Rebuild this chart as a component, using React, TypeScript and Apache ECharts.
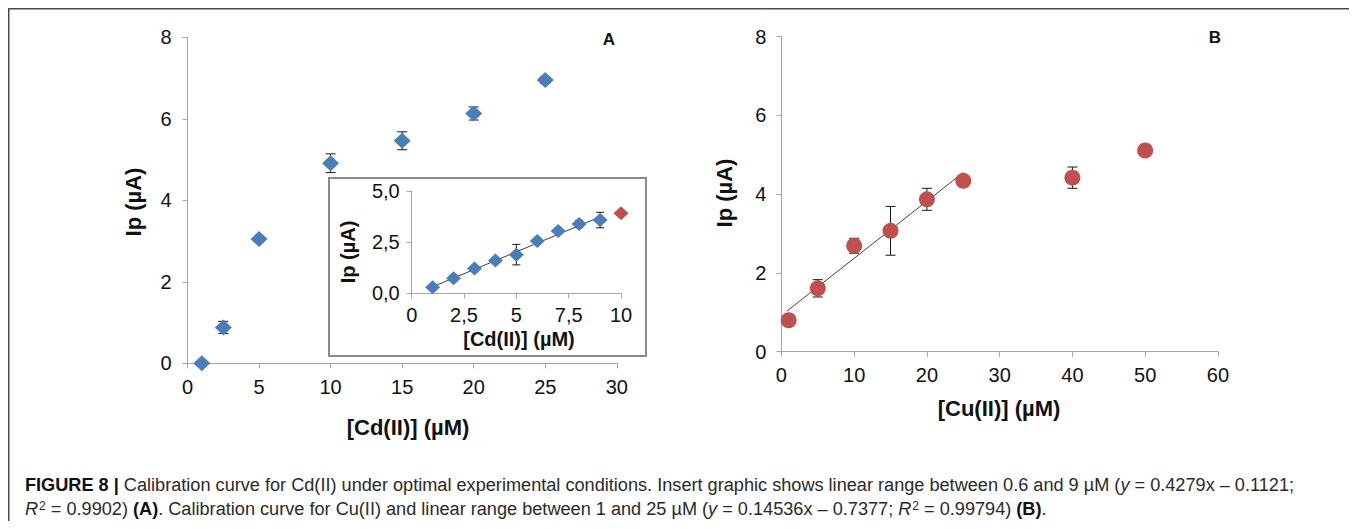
import React, { useEffect, useRef } from "react";
import * as echarts from "echarts";

// ---- Data ----
// Panel A (main): Cd(II)
const A_X = [1, 2.5, 5, 10, 15, 20, 25];
const A_Y = [0, 0.88, 3.05, 4.91, 5.46, 6.13, 6.95];
const A_ERR = [0, 0.15, 0.05, 0.23, 0.22, 0.16, 0.08];

// Panel A inset: linear range
const IN_X = [1, 2, 3, 4, 5, 6, 7, 8, 9];
const IN_Y = [0.29, 0.73, 1.21, 1.6, 1.89, 2.56, 3.05, 3.39, 3.58];
const IN_ERR = [0.05, 0.06, 0.08, 0.1, 0.5, 0.1, 0.1, 0.18, 0.38];
const IN_OUT_X = [10];
const IN_OUT_Y = [3.91];
const IN_TREND_X = [1, 9.15];
const IN_TREND_Y = [0.316, 3.8];

// Panel B: Cu(II)
const B_X = [1, 5, 10, 15, 20, 25, 40, 50];
const B_Y = [0.8, 1.61, 2.69, 3.07, 3.87, 4.34, 4.42, 5.11];
const B_ERR = [0, 0.22, 0.19, 0.62, 0.28, 0, 0.27, 0];
const B_TREND_X = [0.75, 25];
const B_TREND_Y = [1.03, 4.55];

const FONT = "Liberation Sans, Arial, sans-serif";
const BLUE = "#4a7ebb";
const RED = "#c0504d";
const AXIS = "#a6a6a6";

const zip = (xs: number[], ys: number[]) => xs.map((x, i) => [x, ys[i]]);
const zip3 = (xs: number[], ys: number[], es: number[]) => xs.map((x, i) => [x, ys[i], es[i]]);

function errRender(cap: number) {
  return (params: any, api: any) => {
    const x = api.value(0);
    const y = api.value(1);
    const e = api.value(2);
    if (!e) return { type: "group", children: [] };
    const t = api.coord([x, y + e]);
    const b = api.coord([x, y - e]);
    const st = { stroke: "#1a1a1a", lineWidth: 1 };
    return {
      type: "group",
      children: [
        { type: "line", shape: { x1: t[0], y1: t[1], x2: b[0], y2: b[1] }, style: st },
        { type: "line", shape: { x1: t[0] - cap, y1: t[1], x2: t[0] + cap, y2: t[1] }, style: st },
        { type: "line", shape: { x1: b[0] - cap, y1: b[1], x2: b[0] + cap, y2: b[1] }, style: st },
      ],
    };
  };
}

function axis(fs: number, extra: any) {
  return {
    axisLine: { show: true, onZero: false, lineStyle: { color: AXIS, width: 1 } },
    axisTick: { show: true, inside: false, length: 5, lineStyle: { color: AXIS } },
    splitLine: { show: false },
    ...extra,
    axisLabel: { fontSize: fs, color: "#111", fontFamily: FONT, ...(extra.axisLabel || {}) },
  };
}

const comma = (v: number, d: number) => v.toFixed(d).replace(".", ",");

export default function App() {
  const ref = useRef<HTMLDivElement>(null);
  useEffect(() => {
    if (!ref.current) return;
    const chart = echarts.init(ref.current, null, { renderer: "svg" });
    const capFs = 18.15;
    const base = { fontSize: capFs, fontFamily: FONT, fill: "#2a2a2a" };
    const rich = {
      b: { fontSize: capFs, fontFamily: FONT, fontWeight: "bold", fill: "#111" },
      i: { fontSize: capFs, fontFamily: FONT, fontStyle: "italic", fill: "#2a2a2a" },
      n: { fontSize: capFs, fontFamily: FONT, fill: "#2a2a2a" },
      sup: { fontSize: 12, fontFamily: FONT, fill: "#2a2a2a", verticalAlign: "top", padding: [0, 0, 0, 1] },
    };
    const line1 =
      "{b|FIGURE 8 |}{n| Calibration curve for Cd(II) under optimal experimental conditions. Insert graphic shows linear range between 0.6 and 9 µM (}{i|y}{n| = 0.4279x – 0.1121;}";
    const line2 =
      "{i|R}{sup|2}{n| = 0.9902) }{b|(A)}{n|. Calibration curve for Cu(II) and linear range between 1 and 25 µM (}{i|y}{n| = 0.14536x – 0.7377; }{i|R}{sup|2}{n| = 0.99794) }{b|(B)}{n|.}";

    const title = (text: string, x: number, y: number, fs: number, rot = 0) => ({
      type: "text",
      x,
      y,
      z: 10,
      rotation: rot,
      style: {
        text,
        fontSize: fs,
        fontFamily: FONT,
        fontWeight: "bold",
        fill: "#111",
        align: "center",
        verticalAlign: "middle",
      },
    });

    chart.setOption({
      animation: false,
      backgroundColor: "#fff",
      grid: [
        { left: 179.5, top: 29.3, width: 429.3, height: 326 },
        { left: 403.7, top: 183, width: 209.3, height: 102.3 },
        { left: 773.4, top: 28.7, width: 436.5, height: 315 },
      ],
      xAxis: [
        axis(20, { gridIndex: 0, type: "value", min: 0, max: 30, interval: 5, axisLabel: { margin: 14 } }),
        axis(20, {
          gridIndex: 1,
          type: "value",
          min: 0,
          max: 10,
          interval: 2.5,
          axisLabel: { margin: 12, formatter: (v: number) => (Number.isInteger(v) ? String(v) : comma(v, 1)) },
        }),
        axis(20, { gridIndex: 2, type: "value", min: 0, max: 60, interval: 10, axisLabel: { margin: 13 } }),
      ],
      yAxis: [
        axis(20, { gridIndex: 0, type: "value", min: 0, max: 8, interval: 2, axisLabel: { margin: 16 } }),
        axis(20, {
          gridIndex: 1,
          type: "value",
          min: 0,
          max: 5,
          interval: 2.5,
          axisLabel: { margin: 12, formatter: (v: number) => comma(v, 1) },
        }),
        axis(20, { gridIndex: 2, type: "value", min: 0, max: 8, interval: 2, axisLabel: { margin: 15 } }),
      ],
      graphic: [
        {
          type: "rect",
          z: -10,
          shape: { x: 0.75, y: 0.75, width: 1346.5, height: 600 },
          style: { fill: "none", stroke: "#4d4d4d", lineWidth: 1.5 },
        },
        {
          type: "rect",
          z: -1,
          shape: { x: 321, y: 170, width: 317, height: 178 },
          style: { fill: "#fff", stroke: "#8a8a8a", lineWidth: 2 },
        },
        title("Ip (µA)", 125, 194, 22, Math.PI / 2),
        title("[Cd(II)] (µM)", 400, 419, 22),
        title("Ip (µA)", 340, 244, 20, Math.PI / 2),
        title("[Cd(II)] (µM)", 511, 331, 20),
        title("Ip (µA)", 716, 185, 22, Math.PI / 2),
        title("[Cu(II)] (µM)", 991, 400, 22),
        title("A", 601, 31, 17),
        title("B", 1207, 29, 17),
        {
          type: "text",
          x: 17,
          y: 477,
          z: 10,
          style: { ...base, text: line1, rich, verticalAlign: "middle" },
        },
        {
          type: "text",
          x: 17,
          y: 501,
          z: 10,
          style: { ...base, text: line2, rich, verticalAlign: "middle" },
        },
      ],
      series: [
        {
          type: "custom",
          xAxisIndex: 0,
          yAxisIndex: 0,
          z: 3,
          renderItem: errRender(5),
          data: zip3(A_X, A_Y, A_ERR),
        },
        {
          type: "scatter",
          xAxisIndex: 0,
          yAxisIndex: 0,
          z: 4,
          symbol: "diamond",
          symbolSize: [17, 16],
          itemStyle: { color: BLUE, opacity: 1 },
          data: zip(A_X, A_Y),
        },
        {
          type: "line",
          xAxisIndex: 1,
          yAxisIndex: 1,
          z: 5,
          symbol: "none",
          lineStyle: { color: "#404040", width: 1 },
          data: zip(IN_TREND_X, IN_TREND_Y),
        },
        {
          type: "custom",
          xAxisIndex: 1,
          yAxisIndex: 1,
          z: 5,
          renderItem: errRender(4),
          data: zip3(IN_X, IN_Y, IN_ERR),
        },
        {
          type: "scatter",
          xAxisIndex: 1,
          yAxisIndex: 1,
          z: 6,
          symbol: "diamond",
          symbolSize: [15, 14],
          itemStyle: { color: BLUE, opacity: 1 },
          data: zip(IN_X, IN_Y),
        },
        {
          type: "scatter",
          xAxisIndex: 1,
          yAxisIndex: 1,
          z: 6,
          symbol: "diamond",
          symbolSize: [15, 14],
          itemStyle: { color: RED, opacity: 1 },
          data: zip(IN_OUT_X, IN_OUT_Y),
        },
        {
          type: "line",
          xAxisIndex: 2,
          yAxisIndex: 2,
          z: 3,
          symbol: "none",
          lineStyle: { color: "#404040", width: 1 },
          data: zip(B_TREND_X, B_TREND_Y),
        },
        {
          type: "custom",
          xAxisIndex: 2,
          yAxisIndex: 2,
          z: 3,
          renderItem: errRender(5),
          data: zip3(B_X, B_Y, B_ERR),
        },
        {
          type: "scatter",
          xAxisIndex: 2,
          yAxisIndex: 2,
          z: 4,
          symbol: "circle",
          symbolSize: 16,
          itemStyle: { color: RED, opacity: 1 },
          data: zip(B_X, B_Y),
        },
      ],
    });
    return () => chart.dispose();
  }, []);
  return <div ref={ref} style={{ width: 1349, height: 521, marginBottom: -8 }} />;
}
